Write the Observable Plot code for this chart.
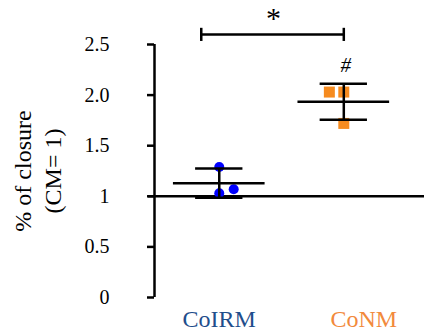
<!DOCTYPE html>
<html><head><meta charset="utf-8">
<script src="https://cdn.jsdelivr.net/npm/d3@7"></script>
<script src="https://cdn.jsdelivr.net/npm/@observablehq/plot@0.6"></script>
<style>body{margin:0;background:#fff;} svg{display:block;} svg text{font-family:'Liberation Serif','Times New Roman',serif !important;}</style>
</head><body><div id="chart"></div>
<script>
// ---- data ----
const groups = ["CoIRM", "CoNM"];
const labelColors = ["#1f4e8c", "#f28a3c"];
const pointColors = ["#0000ff", "#f68b1f"];
const pointSymbols = ["circle", "square"];
const means = [1.13, 1.935];
const sds = [0.145, 0.178];
const coirmValues = [1.29, 1.03, 1.07];
const coirmSlots = [0, 0, 1];
const conmValues = [2.03, 2.03, 1.72];
const conmSlots = [-1, 0, 0];
const yTicks = [0, 0.5, 1, 1.5, 2, 2.5];
const yTickLabels = ["0", "0.5", "1", "1.5", "2.0", "2.5"];
const reference = [1];
const comparisons = [{from: 0, to: 1, y: 2.6, label: "*"}];
const annotations = [{group: 1, y: 2.29, label: "#"}];

// ---- derived tables ----
const slotStep = 0.116;
const points = [
  ...coirmValues.map((v, i) => ({g: 0, v, slot: coirmSlots[i]})),
  ...conmValues.map((v, i) => ({g: 1, v, slot: conmSlots[i]}))
];
const stats = groups.map((name, g) => ({g, name, mean: means[g], lo: means[g] - sds[g], hi: means[g] + sds[g]}));

const xDomain = [-0.52, 1.648];
const font = "Liberation Serif";

const chart = Plot.plot({
  width: 424,
  height: 333,
  marginLeft: 154,
  marginRight: 0,
  marginTop: 44,
  marginBottom: 36,
  style: {fontFamily: font, background: "#fff", color: "#000"},
  x: {domain: xDomain, axis: null},
  y: {domain: [0, 2.5], axis: null},
  marks: [
    // y axis
    Plot.ruleX([xDomain[0]], {y1: 0, y2: 2.5, strokeWidth: 2.5}),
    Plot.ruleY(yTicks, {x1: xDomain[0], x2: xDomain[0], insetLeft: -7, strokeWidth: 2.5}),
    Plot.axisY({ticks: yTicks, tickFormat: d => yTickLabels[yTicks.indexOf(d)], tickSize: 0, tickPadding: 45, fontSize: 20, fontFamily: font, fontVariant: "normal", label: null}),
    // reference line at CM = 1
    Plot.ruleY(reference, {strokeWidth: 2.5, insetLeft: -6}),
    // points
    Plot.dot(points.filter(d => d.g === 0), {x: d => d.g + d.slot * slotStep, y: "v", r: 5, fill: pointColors[0], symbol: pointSymbols[0]}),
    Plot.dot(points.filter(d => d.g === 1), {x: d => d.g + d.slot * slotStep, y: "v", r: 6.2, fill: pointColors[1], symbol: pointSymbols[1]}),
    // mean and sd
    Plot.ruleY(stats, {x1: d => d.g - 0.368, x2: d => d.g + 0.368, y: "mean", strokeWidth: 2.5}),
    Plot.ruleY(stats, {x1: d => d.g - 0.19, x2: d => d.g + 0.19, y: "hi", strokeWidth: 2.5}),
    Plot.ruleY(stats, {x1: d => d.g - 0.19, x2: d => d.g + 0.19, y: "lo", strokeWidth: 2.5}),
    Plot.ruleX(stats, {x: "g", y1: "lo", y2: "hi", strokeWidth: 2.5}),
    // significance bracket
    Plot.ruleY(comparisons, {x1: "from", x2: "to", y: "y", strokeWidth: 2.5, insetLeft: -18}),
    Plot.ruleX(comparisons, {x: "from", y1: d => d.y - 0.07, y2: d => d.y + 0.06, strokeWidth: 2.5, dx: -18}),
    Plot.ruleX(comparisons, {x: "to", y1: d => d.y - 0.07, y2: d => d.y + 0.06, strokeWidth: 2.5}),
    Plot.text(comparisons, {x: d => (d.from + d.to) / 2, y: d => d.y + 0.13, text: "label", fontSize: 30, dx: -8, dy: -3, lineAnchor: "middle", fontFamily: font}),
    Plot.text(annotations, {x: "group", y: "y", text: "label", fontSize: 21, dx: 2, lineAnchor: "middle", fontStyle: "italic", fontFamily: font}),
    // category labels
    Plot.text([stats[0]], {x: "g", text: "name", frameAnchor: "bottom", dy: 22, lineAnchor: "middle", fontSize: 24, fill: labelColors[0], fontFamily: font}),
    Plot.text([stats[1]], {x: "g", text: "name", frameAnchor: "bottom", dy: 22, dx: 20, lineAnchor: "middle", fontSize: 24, fill: labelColors[1], fontFamily: font}),
    // y title
    Plot.text(["% of closure"], {text: d => d, frameAnchor: "left", textAnchor: "middle", rotate: -90, dx: -131, fontSize: 24, lineAnchor: "middle", fontFamily: font}),
    Plot.text(["(CM= 1)"], {text: d => d, frameAnchor: "left", textAnchor: "middle", rotate: -90, dx: -101, fontSize: 24, lineAnchor: "middle", fontFamily: font})
  ]
});
document.getElementById("chart").appendChild(chart);
</script>
</body></html>
